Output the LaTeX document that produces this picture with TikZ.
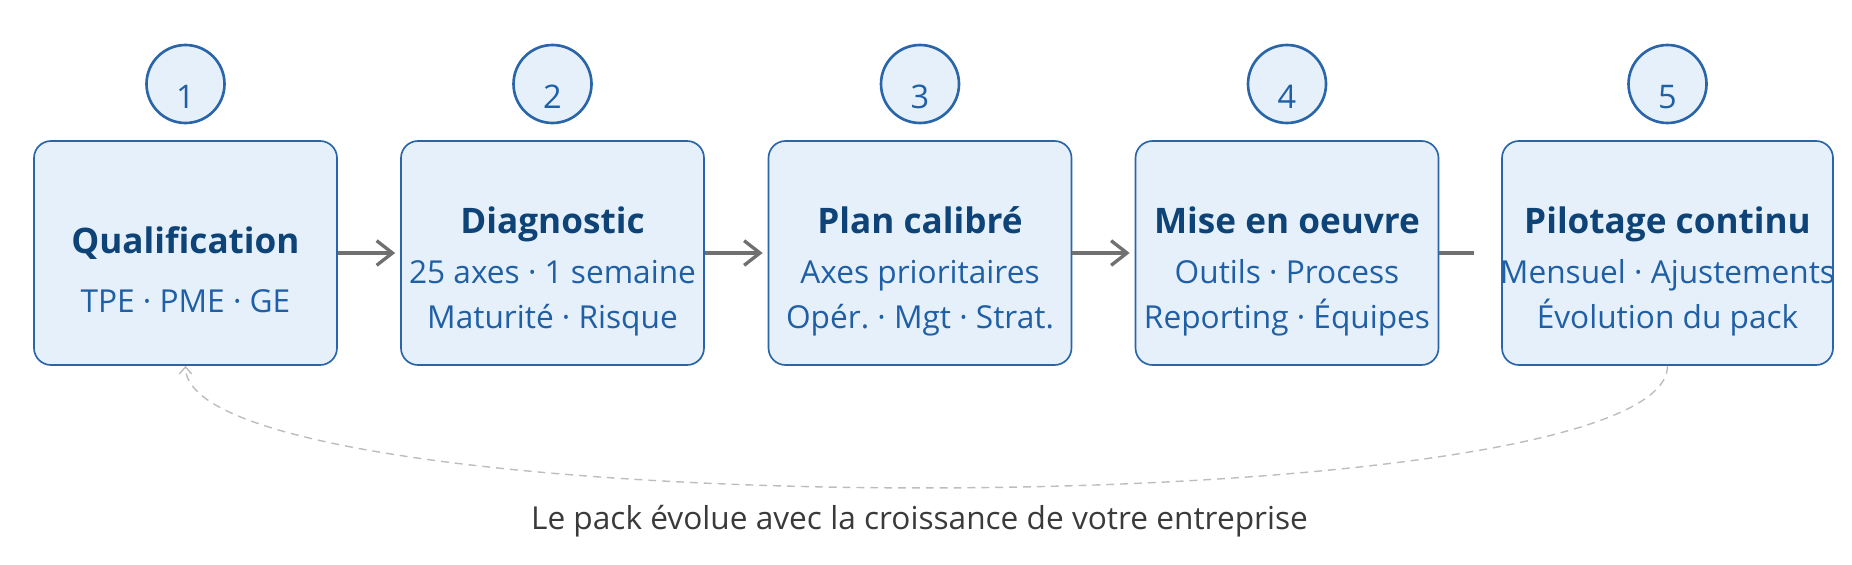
\documentclass[tikz,border=0pt]{standalone}
\usepackage{fontspec}
\setmainfont{Open Sans}
\usepackage{xcolor}
\usetikzlibrary{arrows.meta}
\definecolor{boxfill}{HTML}{E6F0FA}
\definecolor{boxline}{HTML}{2A65AA}
\definecolor{titleblue}{HTML}{0E4378}
\definecolor{subblue}{HTML}{1F5FA6}
\definecolor{flowgray}{HTML}{707070}
\definecolor{loopgray}{HTML}{BDBDBD}
\definecolor{notegray}{HTML}{3A3A3A}
\frenchspacing

\begin{document}
\begin{tikzpicture}[
	stepbox/.style={draw=boxline, fill=boxfill, line width=0.95pt, rounded corners=0.34cm, minimum width=6.06cm, minimum height=4.48cm, inner sep=0pt},
	stepnum/.style={circle, draw=boxline, fill=boxfill, line width=1.5pt, minimum size=1.56cm, inner sep=0pt, text=subblue, font=\fontsize{18.5}{20}\selectfont, text height=27.6pt, text depth=0pt},
	steptitle/.style={anchor=base, text=titleblue, font=\fontsize{20}{24}\selectfont\bfseries},
	stepsub/.style={anchor=base, align=center, text=subblue, font=\fontsize{18}{25.6}\selectfont},
	flow/.style={draw=flowgray, line width=1.9pt, -{Straight Barb[length=9pt,width=14pt]}, shorten >=0.1cm},
	loopback/.style={draw=loopgray, line width=0.8pt, dash pattern=on 4.5pt off 3.4pt, -{Straight Barb[length=4pt,width=7pt]}}
	]
		\useasboundingbox (0,0) rectangle (37.04,11.28);
		\node[stepbox] (b1) at (3.71,6.22) {};
		\node[stepbox] (b2) at (11.05,6.22) {};
		\node[stepbox] (b3) at (18.40,6.22) {};
		\node[stepbox] (b4) at (25.74,6.22) {};
		\node[stepbox, minimum width=6.62cm] (b5) at (33.35,6.22) {};
		\node[stepnum] (n1) at (3.71,9.60) {1};
		\node[stepnum] (n2) at (11.05,9.60) {2};
		\node[stepnum] (n3) at (18.40,9.60) {3};
		\node[stepnum] (n4) at (25.74,9.60) {4};
		\node[stepnum] (n5) at (33.35,9.60) {5};
		\node[steptitle] (t1) at (3.71,6.22) {Qualification};
		\node[stepsub] (s1) at (3.71,5.04) {TPE · PME · GE};
		\node[steptitle] (t2) at (11.05,6.60) {Diagnostic};
		\node[stepsub] (s2) at (11.05,4.72) {25 axes · 1 semaine\\Maturité · Risque};
		\node[steptitle] (t3) at (18.40,6.60) {Plan calibré};
		\node[stepsub] (s3) at (18.40,4.72) {Axes prioritaires\\Opér. · Mgt · Strat.};
		\node[steptitle] (t4) at (25.74,6.60) {Mise en oeuvre};
		\node[stepsub] (s4) at (25.74,4.72) {Outils · Process\\Reporting · Équipes};
		\node[steptitle] (t5) at (33.35,6.60) {Pilotage continu};
		\node[stepsub] (s5) at (33.35,4.72) {Mensuel · Ajustements\\Évolution du pack};
		\draw[flow] (b1) -- (b2);
		\draw[flow] (b2) -- (b3);
		\draw[flow] (b3) -- (b4);
		\coordinate (e4) at ([xshift=0.7cm]b4.east);
		\draw[draw=flowgray, line width=1.9pt] (b4.east) -- (e4);
		\draw[loopback] (b5.south) .. controls +(0,-3.25) and +(0,-3.25) .. (b1.south);
		\node[anchor=base, text=notegray, font=\fontsize{18}{22}\selectfont] (note) at (18.39,0.70) {Le pack évolue avec la croissance de votre entreprise};
\end{tikzpicture}
\end{document}
